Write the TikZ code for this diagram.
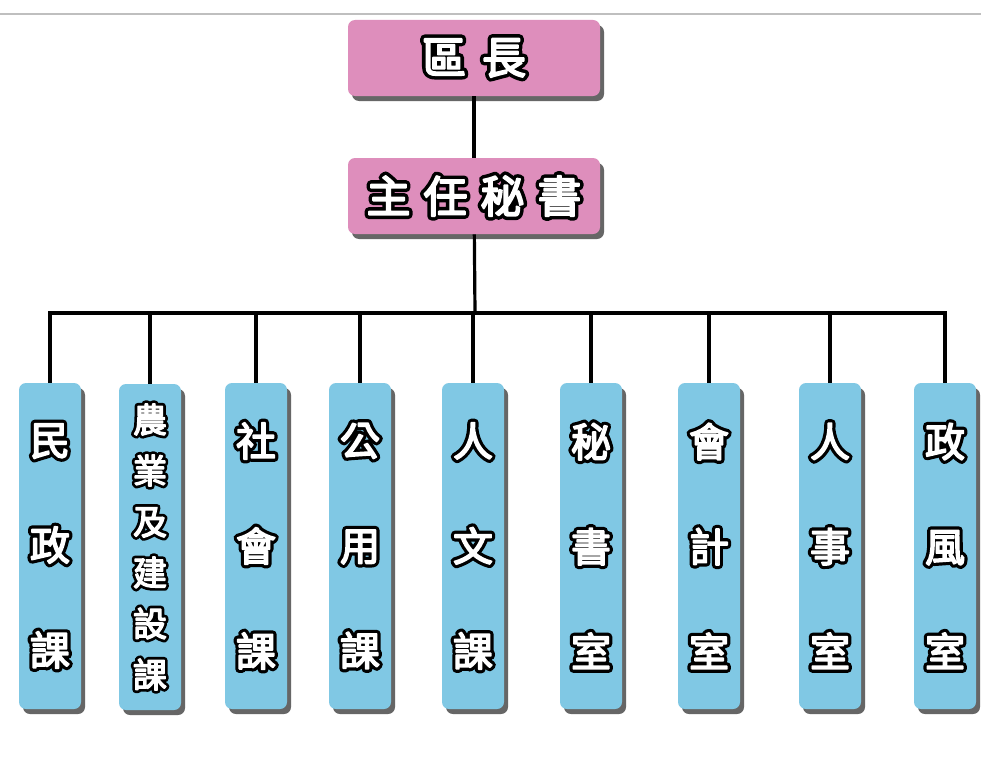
\documentclass[tikz,border=0pt]{standalone}
\usepackage{fontspec}
\newfontfamily\cjkface{Noto Sans CJK TC}[FakeBold=4]
\newfontfamily\cjkedge{Noto Sans CJK TC}[FakeBold=20]
\usetikzlibrary{shadows}
\definecolor{rosebox}{RGB}{222,142,188}
\definecolor{skybox}{RGB}{128,200,228}
% white glyphs with a black rim
\newcommand\ol[1]{\special{pdf:code 1 j 1 J}\setbox0\hbox{\cjkface #1}\rlap{\hbox to \wd0{\hss\cjkedge\color{black}#1\hss}}\box0}

\tikzset{every picture/.style={line width=0.75pt}}
\tikzset{
  chiefbox/.style={draw=none,fill=rosebox,rounded corners=7pt,minimum width=252pt,minimum height=76pt,inner sep=0pt,line join=round,
    drop shadow={shadow xshift=4pt,shadow yshift=-5pt,fill=black!75,opacity=.8},font=\fontsize{44}{50}\selectfont,text=white},
  unitbox/.style={draw=none,fill=skybox,rounded corners=7pt,minimum width=62pt,minimum height=326pt,inner sep=0pt,align=center,line join=round,
    drop shadow={shadow xshift=4pt,shadow yshift=-5pt,fill=black!75,opacity=.8},text=white},
  link/.style={line width=3.2pt,black}
}

\begin{document}
\begin{tikzpicture}[x=1pt,y=1pt,yscale=-1,xscale=1]
	\useasboundingbox (0,0) rectangle (981,760);
	\fill[white] (0,0) rectangle (981,760);

	%Straight Lines [top rule]
	\draw [color=black!25,line width=1.5pt] (0,14) -- (981,14) ;

	% Text Node
	\node [chiefbox] (chief) at (474,58) {\ol{區}\hspace{16pt}\ol{長}};
	% Text Node
	\node [chiefbox] (secretary) at (474,196) {\ol{主}\hspace{13pt}\ol{任}\hspace{13pt}\ol{秘}\hspace{13pt}\ol{書}};
	\coordinate (bus) at (475,313);

	% Units
	\foreach \n/\x/\lab in {1/50/{\ol{民}\\\ol{政}\\\ol{課}},3/256/{\ol{社}\\\ol{會}\\\ol{課}},4/360/{\ol{公}\\\ol{用}\\\ol{課}},
	  5/473/{\ol{人}\\\ol{文}\\\ol{課}},6/591/{\ol{秘}\\\ol{書}\\\ol{室}},7/709/{\ol{會}\\\ol{計}\\\ol{室}},
	  8/830/{\ol{人}\\\ol{事}\\\ol{室}},9/945/{\ol{政}\\\ol{風}\\\ol{室}}}
	  \node [unitbox,font=\fontsize{40}{105}\selectfont] (u\n) at (\x,546) {\lab};
	\node [unitbox,font=\fontsize{34}{51}\selectfont] (u2) at (150,547)
	  {\ol{農}\\\ol{業}\\\ol{及}\\\ol{建}\\\ol{設}\\\ol{課}};

	%Straight Lines [connectors]
	\draw [link] (chief) -- (secretary) ;
	\draw [link] (secretary) -- (bus) ;
	\foreach \n in {1,...,9}
	  \draw [link] (bus) -| (u\n.north) ;
\end{tikzpicture}
\end{document}
